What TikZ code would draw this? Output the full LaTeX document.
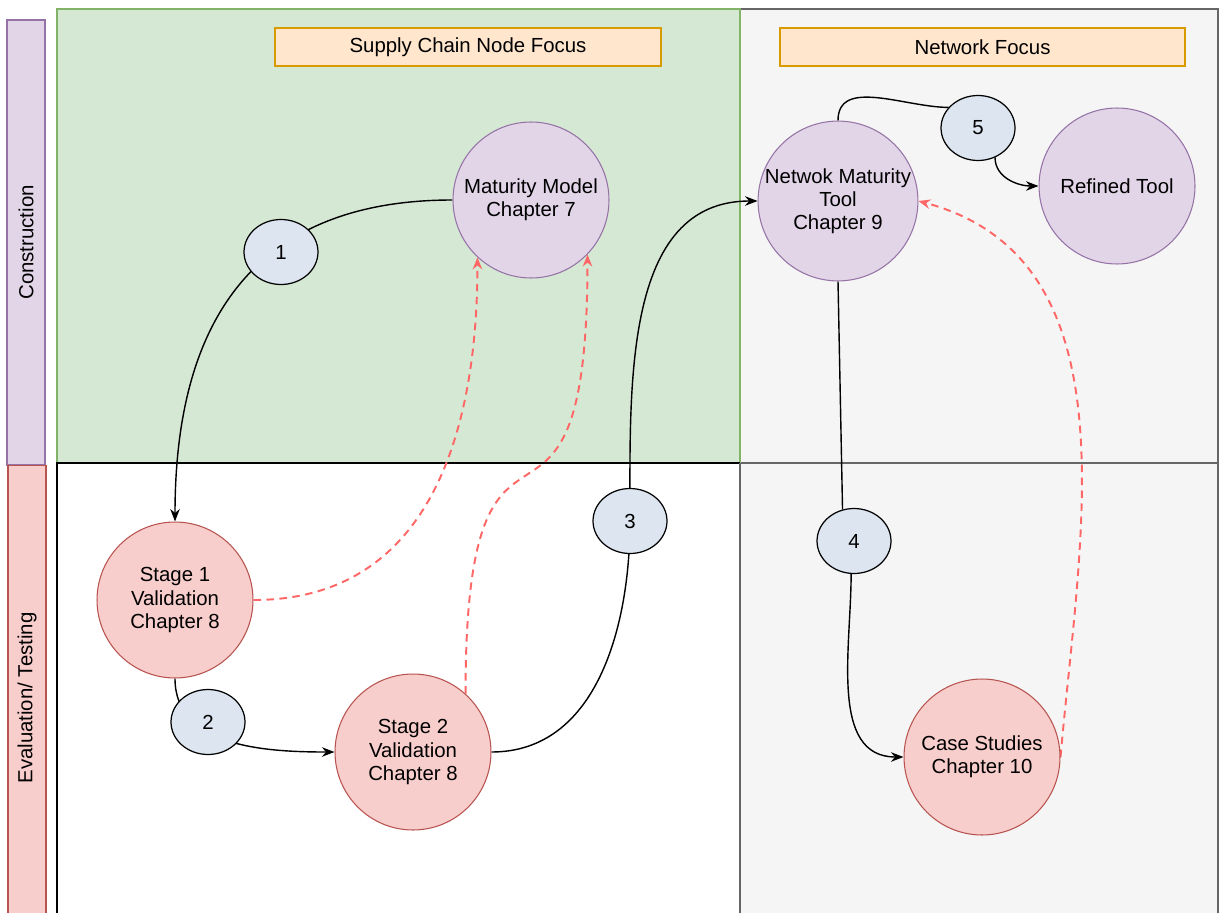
\documentclass[tikz,border=0pt]{standalone}
\usepackage{fontspec}
\setmainfont{Liberation Sans}
\usetikzlibrary{arrows.meta,shapes.geometric}

\definecolor{greenfill}{HTML}{D5E8D4}
\definecolor{greenline}{HTML}{82B366}
\definecolor{grayfill}{HTML}{F5F5F5}
\definecolor{grayline}{HTML}{666666}
\definecolor{confill}{HTML}{E1D5E7}
\definecolor{conline}{HTML}{9673A6}
\definecolor{evalfill}{HTML}{F8CECC}
\definecolor{evalline}{HTML}{B85450}
\definecolor{focusfill}{HTML}{FFE6CC}
\definecolor{focusline}{HTML}{D79B00}
\definecolor{stepfill}{HTML}{DCE5F0}
\definecolor{backred}{HTML}{FF6666}

\pgfdeclarelayer{lanes}
\pgfdeclarelayer{edges}
\pgfsetlayers{lanes,edges,main}

\begin{document}
\begin{tikzpicture}[x=0.02cm,y=0.02cm,
  font=\fontsize{11.6}{13.1}\selectfont,
  chapter/.style={circle,minimum size=3.12cm,inner sep=0pt,align=center,line width=0.6pt},
  construct/.style={chapter,draw=conline,fill=confill},
  evaluate/.style={chapter,draw=evalline,fill=evalfill},
  stepno/.style={ellipse,draw,fill=stepfill,line width=0.7pt,minimum width=1.48cm,minimum height=1.3cm,inner sep=0pt},
  focus/.style={draw=focusline,fill=focusfill,line width=0.7pt,minimum height=0.76cm,inner sep=0pt},
  lanebar/.style={rotate=90,minimum height=0.76cm,inner sep=0pt,line width=0.7pt},
  flow/.style={line width=0.8pt,-{Stealth[length=2.5mm,width=1.9mm,inset=0.8mm]}},
  feedback/.style={backred,line width=1.1pt,dash pattern=on 1.5mm off 1.1mm,
    -{Stealth[length=2.4mm,width=1.9mm,inset=0.8mm]}}]
  \useasboundingbox (0,0) rectangle (1219,-912);

  % swimlanes
  \begin{pgfonlayer}{lanes}
    \fill[white] (0,0) rectangle (1219,-912);
    \draw[grayline,fill=grayfill,line width=0.7pt] (740,-9) rectangle (1218,-463);
    \draw[grayline,fill=grayfill,line width=0.7pt] (740,-463) rectangle (1218,-930);
    \draw[greenline,fill=greenfill,line width=0.7pt] (57,-9) rectangle (740,-463);
    \draw[line width=0.8pt] (57,-930) -- (57,-463) -- (740,-463);
    \draw[grayline,line width=0.8pt] (740,-463) -- (740,-930);
    \node[lanebar,draw=conline,fill=confill,minimum width=8.9cm] (constr) at (26,-242.5) {Construction};
    \node[lanebar,draw=evalline,fill=evalfill,minimum width=9.3cm] (evalt) at (27,-698) {Evaluation/ Testing};
  \end{pgfonlayer}

  % column headers
  \node[focus,minimum width=7.72cm] (nodefocus) at (468,-47) {Supply Chain Node Focus};
  \node[focus,minimum width=8.1cm] (netfocus) at (982.5,-47) {Network Focus};

  % chapters
  \node[construct] (mm)  at (531,-200)  {Maturity Model\\Chapter 7};
  \node[construct] (nmt) at (838,-201)  {Netwok Maturity\\Tool\\Chapter 9};
  \node[construct] (rt)  at (1117,-186) {Refined Tool};
  \node[evaluate]  (s1)  at (175,-600)  {Stage 1\\Validation\\Chapter 8};
  \node[evaluate]  (s2)  at (413,-752)  {Stage 2\\Validation\\Chapter 8};
  \node[evaluate]  (cs)  at (982,-757)  {Case Studies\\Chapter 10};

  % step numbers
  \node[stepno] (n1) at (281,-252) {1};
  \node[stepno] (n2) at (208,-722) {2};
  \node[stepno] (n3) at (630,-521) {3};
  \node[stepno] (n4) at (854,-541) {4};
  \node[stepno] (n5) at (978,-128) {5};

  \begin{pgfonlayer}{edges}
    % forward steps
    \draw[flow] (mm.west) to[out=180,in=90,looseness=1.2] (s1.north);
    \draw[flow] (s1.south) to[out=-90,in=180] (s2.west);
    \draw[flow] (s2.east) to[out=0,in=-90] (n3.center) to[out=90,in=180] (nmt.west);
    \draw[line width=0.8pt] (nmt.south) -- (n4.110);
    \draw[flow] (n4.-95) to[out=-90,in=180] (cs.west);
    \draw[line width=0.8pt] (nmt.north) to[out=90,in=180] (n5.145);
    \draw[flow] (n5.-60) to[out=-90,in=180] (rt.west);
    % feedback
    \draw[feedback] (s1.east) to[out=0,in=-90,looseness=1.1] (mm.-133);
    \draw[feedback] (s2.48) to[out=90,in=-90,looseness=2] (mm.-44);
    \draw[feedback] (cs.east) to[out=85,in=-15] (nmt.east);
  \end{pgfonlayer}
\end{tikzpicture}
\end{document}
